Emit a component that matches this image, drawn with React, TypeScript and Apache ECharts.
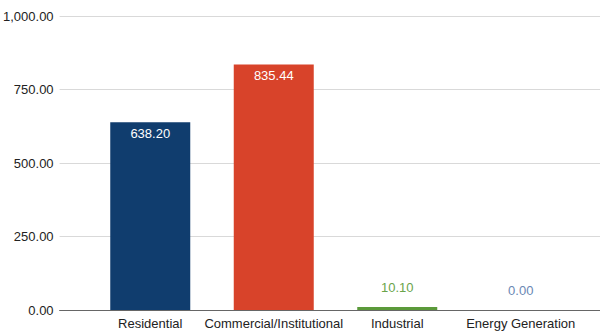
import React, { useEffect, useRef } from "react";
import * as echarts from "echarts";

const categories = ["Residential", "Commercial/Institutional", "Industrial", "Energy Generation"];
const values = [638.2, 835.44, 10.1, 0.0];
const barColors = ["#103d6e", "#d8432a", "#5b9a3a", "#5f84b8"];
const labelColors = ["#ffffff", "#ffffff", "#6aa44a", "#6a88b4"];
const yTicks = [0, 250, 500, 750, 1000];

const fmt = (v: number) =>
  v.toLocaleString("en-US", { minimumFractionDigits: 2, maximumFractionDigits: 2 });

export default function App() {
  const ref = useRef<HTMLDivElement>(null);
  useEffect(() => {
    if (!ref.current) return;
    const chart = echarts.init(ref.current, null, { renderer: "svg" });
    const font = "'Liberation Sans', Arial, sans-serif";
    chart.setOption({
      animation: false,
      backgroundColor: "#ffffff",
      grid: [
        { left: 58, right: 0, top: 16, bottom: 23 },
        { left: 88.5, width: 494, top: 16, bottom: 23 },
      ],
      xAxis: [
        {
          gridIndex: 0,
          type: "value",
          min: 0,
          max: 1,
          axisLine: { show: true, onZero: false, lineStyle: { color: "#666666", width: 1 } },
          axisTick: { show: false },
          axisLabel: { show: false },
          splitLine: { show: false },
        },
        {
          gridIndex: 1,
          type: "category",
          data: categories,
          axisLine: { show: false },
          axisTick: { show: false },
          axisLabel: { color: "#222222", fontSize: 13, fontFamily: font, margin: 7, interval: 0 },
        },
      ],
      yAxis: [
        {
          gridIndex: 0,
          type: "value",
          min: yTicks[0],
          max: yTicks[yTicks.length - 1],
          interval: 250,
          axisLine: { show: false },
          axisTick: { show: false },
          axisLabel: {
            color: "#222222",
            fontSize: 13,
            fontFamily: font,
            margin: 6,
            formatter: (v: number) => fmt(v),
          },
          splitLine: { lineStyle: { color: "#d9d9d9", width: 1 } },
        },
        {
          gridIndex: 1,
          type: "value",
          min: yTicks[0],
          max: yTicks[yTicks.length - 1],
          interval: 250,
          show: false,
        },
      ],
      series: [
        {
          type: "bar",
          xAxisIndex: 1,
          yAxisIndex: 1,
          barWidth: 80,
          data: values.map((v, i) => ({
            value: v,
            itemStyle: { color: barColors[i] },
            label: {
              show: true,
              position: v > 100 ? "insideTop" : "top",
              distance: v > 100 ? 5 : 13,
              color: labelColors[i],
              fontSize: 13,
              fontFamily: font,
              formatter: () => fmt(v),
            },
          })),
        },
      ],
    });
    return () => chart.dispose();
  }, []);
  return <div ref={ref} style={{ width: 600, height: 333, position: "absolute", left: 0, top: 0 }} />;
}
